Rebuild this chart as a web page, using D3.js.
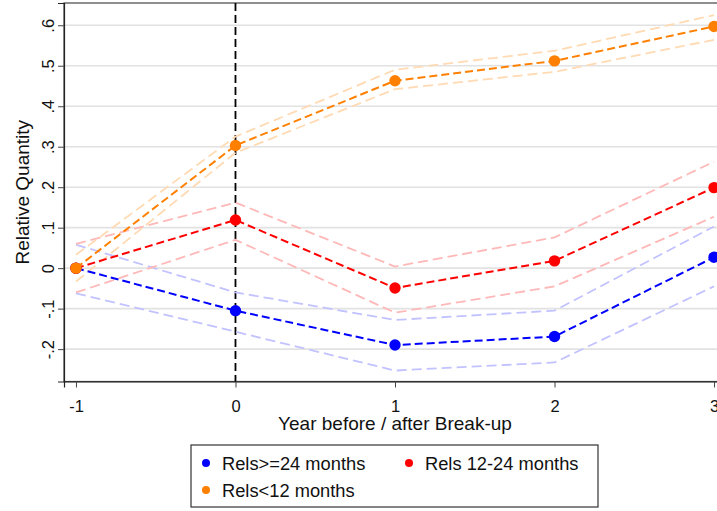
<!DOCTYPE html>
<html>
<head>
<meta charset="utf-8">
<script src="https://cdn.jsdelivr.net/npm/d3@7"></script>
<style>
    body { margin: 0; background: #fff; overflow: hidden; }
    text { font-family: "Liberation Sans", Arial, sans-serif; fill: #111; }
</style>
</head>
<body>
<svg id="chart" width="717" height="511"></svg>
<script>
const years = [-1, 0, 1, 2, 3];
const yTicks = [-0.2, -0.1, 0, 0.1, 0.2, 0.3, 0.4, 0.5, 0.6];
const yTickLabels = ["-.2", "-.1", "0", ".1", ".2", ".3", ".4", ".5", ".6"];

// Rels>=24 months
const longEst = [0, -0.105, -0.19, -0.169, 0.027];
const longHi  = [0.058, -0.06, -0.128, -0.105, 0.103];
const longLo  = [-0.062, -0.157, -0.253, -0.233, -0.045];

// Rels 12-24 months
const midEst = [0, 0.119, -0.049, 0.018, 0.199];
const midHi  = [0.06, 0.162, 0.004, 0.076, 0.263];
const midLo  = [-0.06, 0.07, -0.11, -0.045, 0.127];

// Rels<12 months
const shortEst = [0, 0.303, 0.463, 0.512, 0.597];
const shortHi  = [0.033, 0.325, 0.49, 0.537, 0.625];
const shortLo  = [-0.033, 0.285, 0.442, 0.485, 0.564];

const series = [
    { name: "Rels>=24 months", est: longEst, lo: longLo, hi: longHi, color: "#0000ff", ci: "#c2c2ff" },
    { name: "Rels 12-24 months", est: midEst, lo: midLo, hi: midHi, color: "#ff0000", ci: "#ffb8b8" },
    { name: "Rels<12 months", est: shortEst, lo: shortLo, hi: shortHi, color: "#ff8000", ci: "#ffdab3" }
];

const svg = d3.select("#chart");
const plotLeft = 64, plotRight = 726, plotTop = 3, plotBottom = 381.5;

const x = d3.scaleLinear().domain([-1.075, 3.075]).range([plotLeft, plotRight]);
const y = d3.scaleLinear().domain([-0.28, 0.655]).range([plotBottom, plotTop]);

// Grid
svg.append("g")
    .selectAll("line")
    .data(yTicks)
    .join("line")
    .attr("x1", plotLeft).attr("x2", plotRight)
    .attr("y1", d => y(d)).attr("y2", d => y(d))
    .attr("stroke", "#e2e2e2")
    .attr("stroke-width", 1.6);

// Frame
svg.append("rect")
    .attr("x", plotLeft).attr("y", plotTop)
    .attr("width", plotRight - plotLeft).attr("height", plotBottom - plotTop)
    .attr("fill", "none")
    .attr("stroke", "#444")
    .attr("stroke-width", 1.2);

// Y axis
const yAxis = svg.append("g")
    .attr("transform", `translate(${plotLeft},0)`)
    .call(d3.axisLeft(y).tickValues(yTicks).tickSize(6).tickFormat((d, i) => yTickLabels[i]));
yAxis.select(".domain").attr("stroke", "#222").attr("stroke-width", 1.2);
yAxis.selectAll(".tick line").attr("stroke", "#444");
yAxis.selectAll(".tick text")
    .attr("font-size", 16.5)
    .attr("text-anchor", "middle")
    .attr("x", 0).attr("dy", 0)
    .attr("transform", "translate(-10.5,0) rotate(-90)");

// X axis
const xAxis = svg.append("g")
    .attr("transform", `translate(0,${plotBottom})`)
    .call(d3.axisBottom(x).tickValues(years).tickSize(6).tickFormat(d => String(d)));
xAxis.select(".domain").attr("stroke", "#222").attr("stroke-width", 1.2);
xAxis.selectAll(".tick line").attr("stroke", "#444");
xAxis.selectAll(".tick text").attr("font-size", 16.5).attr("y", 30).attr("dy", 0);

// Axis titles
svg.append("text")
    .attr("transform", `translate(29,${(plotTop + plotBottom) / 2}) rotate(-90)`)
    .attr("text-anchor", "middle")
    .attr("font-size", 19)
    .text("Relative Quantity");

svg.append("text")
    .attr("x", (plotLeft + plotRight) / 2).attr("y", 430)
    .attr("text-anchor", "middle")
    .attr("font-size", 19)
    .text("Year before / after Break-up");

// Break-up line
svg.append("line")
    .attr("x1", x(0)).attr("x2", x(0))
    .attr("y1", plotTop).attr("y2", plotBottom)
    .attr("stroke", "#000")
    .attr("stroke-width", 1.8)
    .attr("stroke-dasharray", "8 4");

const line = d3.line().x((d, i) => x(years[i])).y(d => y(d));

// CI bands
series.forEach(s => {
    [s.lo, s.hi].forEach(arr => {
        svg.append("path")
            .attr("d", line(arr))
            .attr("fill", "none")
            .attr("stroke", s.ci)
            .attr("stroke-width", 1.8)
            .attr("stroke-dasharray", "10 5");
    });
});

// Point estimates
series.forEach(s => {
    svg.append("path")
        .attr("d", line(s.est))
        .attr("fill", "none")
        .attr("stroke", s.color)
        .attr("stroke-width", 2)
        .attr("stroke-dasharray", "8 4");
    svg.append("g")
        .selectAll("circle")
        .data(s.est)
        .join("circle")
        .attr("cx", (d, i) => x(years[i]))
        .attr("cy", d => y(d))
        .attr("r", 5.7)
        .attr("fill", s.color);
});

// Legend
const legend = svg.append("g");
legend.append("rect")
    .attr("x", 191).attr("y", 445)
    .attr("width", 407).attr("height", 62)
    .attr("fill", "#fff")
    .attr("stroke", "#333")
    .attr("stroke-width", 1.2);

const legendPos = [[206, 463], [409, 463], [206, 490]];
series.forEach((s, i) => {
    const [lx, ly] = legendPos[i];
    legend.append("circle").attr("cx", lx).attr("cy", ly).attr("r", 4).attr("fill", s.color);
    legend.append("text")
        .attr("x", lx + 16).attr("y", ly + 6.5)
        .attr("font-size", 18.3)
        .text(s.name);
});
</script>
</body>
</html>
